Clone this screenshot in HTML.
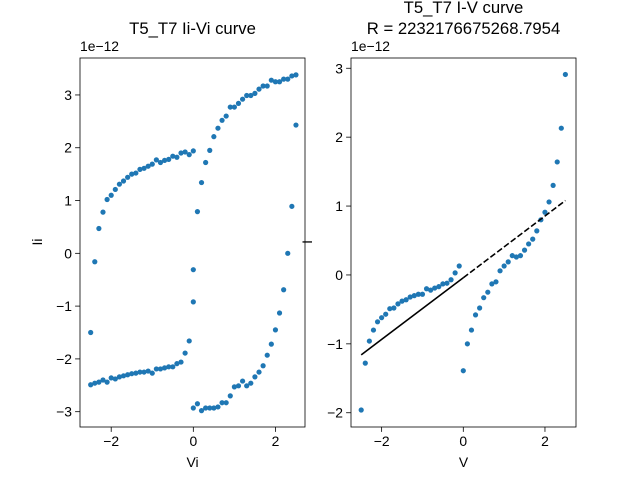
<!DOCTYPE html>
<html><head><meta charset="utf-8"><style>
body{margin:0;background:#fff}
svg{display:block;font-family:"Liberation Sans","DejaVu Sans",sans-serif}
</style></head><body>
<svg id="chart" width="640" height="480" viewBox="0 0 640 480"></svg>
<script>
// Left plot data (Ii vs Vi), four branches
const aX=[-2.5,-2.4,-2.3,-2.2,-2.1,-2.0,-1.9,-1.8,-1.7,-1.6,-1.5,-1.4,-1.3,-1.2,-1.1,-1.0,-0.9,-0.8,-0.7,-0.6,-0.5,-0.4,-0.3,-0.2,-0.1,0.0];
const aY=[-1.50,-0.16,0.47,0.78,1.02,1.10,1.21,1.31,1.37,1.44,1.50,1.52,1.59,1.61,1.65,1.69,1.77,1.72,1.76,1.78,1.84,1.82,1.90,1.92,1.87,1.94];
const bX=[0.0,0.1,0.2,0.3,0.4,0.5,0.6,0.7,0.8,0.9,1.0,1.1,1.2,1.3,1.4,1.5,1.6,1.7,1.8,1.9,2.0,2.1,2.2,2.3,2.4,2.5,2.5];
const bY=[-0.31,0.79,1.34,1.72,1.95,2.21,2.37,2.52,2.60,2.77,2.77,2.84,2.92,2.99,2.99,3.03,3.11,3.17,3.17,3.28,3.25,3.25,3.30,3.30,3.36,3.38,2.43];
const cX=[2.4,2.3,2.2,2.1,2.0,1.9,1.8,1.7,1.6,1.5,1.4,1.3,1.2,1.1,1.0,0.9,0.8,0.7,0.6,0.5,0.4,0.3,0.2,0.1,0.0];
const cY=[0.89,0.00,-0.69,-1.13,-1.45,-1.72,-1.93,-2.13,-2.25,-2.34,-2.46,-2.51,-2.42,-2.51,-2.53,-2.70,-2.83,-2.83,-2.91,-2.93,-2.93,-2.93,-2.98,-2.85,-2.93];
const dX=[0.0,-0.1,-0.2,-0.3,-0.4,-0.5,-0.6,-0.7,-0.8,-0.9,-1.0,-1.1,-1.2,-1.3,-1.4,-1.5,-1.6,-1.7,-1.8,-1.9,-2.0,-2.1,-2.2,-2.3,-2.4,-2.5];
const dY=[-0.92,-1.66,-1.89,-2.06,-2.09,-2.15,-2.15,-2.17,-2.19,-2.19,-2.27,-2.23,-2.25,-2.25,-2.27,-2.28,-2.30,-2.32,-2.34,-2.38,-2.36,-2.44,-2.40,-2.44,-2.46,-2.49];
// Right plot data (I vs V)
const vX=[-2.5,-2.4,-2.3,-2.2,-2.1,-2.0,-1.9,-1.8,-1.7,-1.6,-1.5,-1.4,-1.3,-1.2,-1.1,-1.0,-0.9,-0.8,-0.7,-0.6,-0.5,-0.4,-0.3,-0.2,-0.1,
 0.0,0.1,0.2,0.3,0.4,0.5,0.6,0.7,0.8,0.9,1.0,1.1,1.2,1.3,1.4,1.5,1.6,1.7,1.8,1.9,2.0,2.1,2.2,2.3,2.4,2.5];
const iY=[-1.96,-1.28,-0.96,-0.80,-0.68,-0.62,-0.57,-0.49,-0.48,-0.42,-0.38,-0.36,-0.32,-0.30,-0.28,-0.28,-0.20,-0.22,-0.19,-0.17,-0.13,-0.12,-0.07,0.03,0.13,
 -1.39,-1.00,-0.80,-0.58,-0.48,-0.33,-0.25,-0.13,-0.10,0.06,0.13,0.19,0.28,0.26,0.28,0.36,0.45,0.52,0.64,0.80,0.91,1.06,1.30,1.64,2.13,2.91];
const fitSlope=0.448, fitIntercept=-0.04;
const fitSolidX=[-2.5,0.0], fitDashX=[0.0,2.5];
const leftXTicks=[-2,0,2], leftYTicks=[-3,-2,-1,0,1,2,3];
const rightXTicks=[-2,0,2], rightYTicks=[-2,-1,0,1,2,3];

const svg=document.getElementById('chart');
const NS='http://www.w3.org/2000/svg';
function mk(tag,attrs,parent){const e=document.createElementNS(NS,tag);for(const k in attrs)e.setAttribute(k,attrs[k]);(parent||svg).appendChild(e);return e;}
function txt(s,attrs,parent){const e=mk('text',attrs,parent);e.textContent=s;return e;}
function fmt(v){return v<0?'\u2212'+Math.abs(v):String(v);}

function axes(name,box,xr,yr,xt,yt){
  const sx=v=>box.x0+(v-xr[0])/(xr[1]-xr[0])*(box.x1-box.x0);
  const sy=v=>box.y1-(v-yr[0])/(yr[1]-yr[0])*(box.y1-box.y0);
  const g=mk('g',{});
  
  
  xt.forEach(t=>{const x=sx(t);
    const l=mk('line',{x1:x,x2:x,y1:box.y1,y2:box.y1+4.9,stroke:'#000','stroke-width':0.8},g);
    
    const tx=txt(fmt(t),{x:x,y:box.y1+19,'font-size':13.9,'text-anchor':'middle'},g);
    });
  yt.forEach(t=>{const y=sy(t);
    const l=mk('line',{x1:box.x0-4.9,x2:box.x0,y1:y,y2:y,stroke:'#000','stroke-width':0.8},g);
    
    const tx=txt(fmt(t),{x:box.x0-8,y:y+5,'font-size':13.9,'text-anchor':'end'},g);
    });
  return {sx,sy,g};
}
function frame(box,g){const r=mk('rect',{x:box.x0,y:box.y0,width:box.x1-box.x0,height:box.y1-box.y0,fill:'none',stroke:'#000','stroke-width':0.8},g);
  }
function dots(xs,ys,A,name){xs.forEach((x,i)=>{const c=mk('circle',{cx:A.sx(x),cy:A.sy(ys[i]),r:2.6,fill:'#1f77b4'},A.g);
  });}

// Left axes
const LB={x0:80,x1:305,y0:58,y1:427};
const L=axes('left-plot',LB,[-2.76,2.72],[-3.29,3.70],leftXTicks,leftYTicks);
dots(aX,aY,L,'point-branch-a');dots(bX,bY,L,'point-branch-b');dots(cX,cY,L,'point-branch-c');dots(dX,dY,L,'point-branch-d');
frame(LB,L.g);
let t;
t=txt('T5_T7 Ii-Vi curve',{x:192.5,y:34,'font-size':16.7,'text-anchor':'middle'});
t=txt('1e\u221212',{x:80,y:51,'font-size':13.9});
t=txt('Vi',{x:192.5,y:467,'font-size':13.9,'text-anchor':'middle'});
t=txt('Ii',{x:0,y:0,'font-size':13.9,'text-anchor':'middle',transform:'translate(42,242) rotate(-90)'});

// Right axes
const RB={x0:351,x1:576,y0:58,y1:427};
const R=axes('right-plot',RB,[-2.75,2.76],[-2.207,3.149],rightXTicks,rightYTicks);
dots(vX,iY,R,'point-iv');
let fl=mk('line',{x1:R.sx(fitSolidX[0]),y1:R.sy(fitSlope*fitSolidX[0]+fitIntercept),x2:R.sx(fitSolidX[1]),y2:R.sy(fitSlope*fitSolidX[1]+fitIntercept),stroke:'#000','stroke-width':1.6},R.g);

fl=mk('line',{x1:R.sx(fitDashX[0]),y1:R.sy(fitSlope*fitDashX[0]+fitIntercept),x2:R.sx(fitDashX[1]),y2:R.sy(fitSlope*fitDashX[1]+fitIntercept),stroke:'#000','stroke-width':1.6,'stroke-dasharray':'6,2.5'},R.g);

frame(RB,R.g);
t=txt('T5_T7 I-V curve',{x:463.5,y:13,'font-size':16.7,'text-anchor':'middle'});
t=txt('R = 2232176675268.7954',{x:463.5,y:34,'font-size':16.7,'text-anchor':'middle'});
t=txt('1e\u221212',{x:351,y:51,'font-size':13.9});
t=txt('V',{x:463.5,y:467,'font-size':13.9,'text-anchor':'middle'});
t=txt('I',{x:0,y:0,'font-size':13.9,'text-anchor':'middle',transform:'translate(312,242) rotate(-90)'});
</script>
</body></html>
